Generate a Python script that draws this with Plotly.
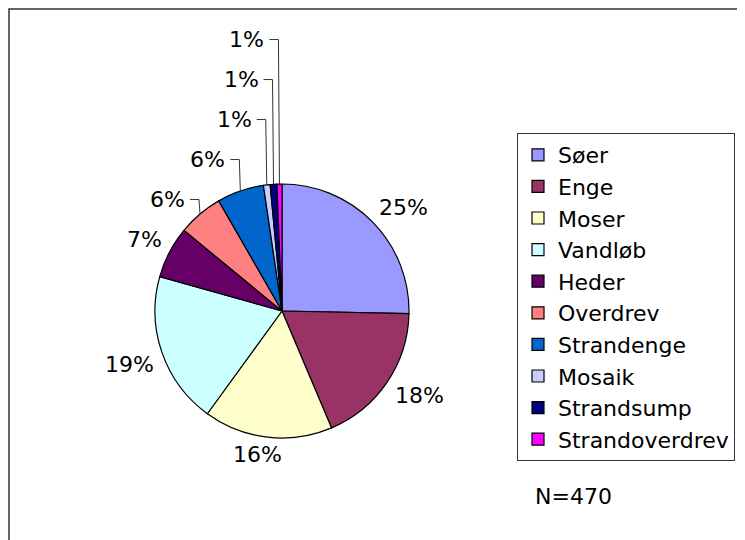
import math
import plotly.graph_objects as go

labels = ["Søer", "Enge", "Moser", "Vandløb", "Heder", "Overdrev",
          "Strandenge", "Mosaik", "Strandsump", "Strandoverdrev"]
counts = [119, 86, 77, 91, 31, 27, 28, 4, 4, 3]
colors = ["#9999FF", "#993366", "#FFFFCC", "#CCFFFF", "#660066", "#FF8080",
          "#0066CC", "#CCCCFF", "#000080", "#FF00FF"]
n_text = "N=470"

W, H = 745, 540
OFF = 8  # page body margin
FONT = "DejaVu Sans"
FS = 22


def X(px):
    return (px - OFF) / W


def Y(py):
    return 1 - (py - OFF) / H


# pie geometry in page pixels
CX, CY, R = 282, 311, 127

fig = go.Figure(go.Pie(
    labels=labels, values=counts, sort=False, direction="clockwise",
    rotation=0,
    marker=dict(colors=colors, line=dict(color="black", width=1.2)),
    textinfo="none", hoverinfo="label+percent",
    domain=dict(x=[X(CX - R), X(CX + R)], y=[Y(CY + R), Y(CY - R)]),
    showlegend=True,
))


def clip(v):
    return max(-1.0, min(1.0, v))


# percentage labels placed from the data (mid-angle of each slice)
annotations = []
shapes = []
total = sum(counts)
cum = 0.0
last_y = None
for lab, v in zip(labels, counts):
    frac = v / total
    mid = math.radians((cum + frac / 2) * 360)
    cum += frac
    ux, uy = math.sin(mid), -math.cos(mid)
    ex, ey = CX + R * ux, CY + R * uy
    txt = f"{round(frac * 100)}%"
    ndig = len(txt) - 1
    w = FS * (0.636 * ndig + 0.95)
    h = 17
    if frac >= 0.065:
        ax, ay = CX + (R + 9) * ux, CY + (R + 9) * uy
        lx = ax + clip(ux / 0.3) * w / 2
        ly = ay + clip(uy / 0.3) * h / 2
        last_y = ly
        annotations.append(dict(text=txt, x=X(lx), y=Y(ly), xref="paper", yref="paper",
                                xanchor="center", yanchor="middle", showarrow=False,
                                font=dict(family=FONT, size=FS, color="black")))
    else:
        ly = last_y - 40
        last_y = ly
        annotations.append(dict(text=txt, x=X(ex - 13), y=Y(ly), xref="paper", yref="paper",
                                xanchor="right", yanchor="middle", showarrow=False,
                                font=dict(family=FONT, size=FS, color="black")))
        path = f"M {X(ex - 10)},{Y(ly)} L {X(ex - 1)},{Y(ly)} L {X(ex)},{Y(ey)}"
        shapes.append(dict(type="path", xref="paper", yref="paper", path=path,
                           line=dict(color="#333333", width=1)))

annotations.append(dict(text=n_text, x=X(533), y=Y(496), xref="paper", yref="paper",
                        xanchor="left", yanchor="middle", showarrow=False,
                        font=dict(family=FONT, size=FS, color="black")))

shapes.append(dict(type="rect", xref="paper", yref="paper",
                   x0=1 / W, x1=1.2, y0=-0.2, y1=Y(9),
                   line=dict(color="#333333", width=1.5)))

fig.update_layout(
    width=W, height=H, margin=dict(l=0, r=0, t=0, b=0),
    paper_bgcolor="white", plot_bgcolor="white",
    font=dict(family=FONT, size=FS, color="black"),
    legend=dict(x=X(517), y=Y(133), xanchor="left", yanchor="top",
                bordercolor="#333333", borderwidth=1, bgcolor="white",
                font=dict(family=FONT, size=FS), traceorder="normal",
                itemwidth=30),
    shapes=shapes,
    annotations=annotations,
)

fig.write_html("out.html")
